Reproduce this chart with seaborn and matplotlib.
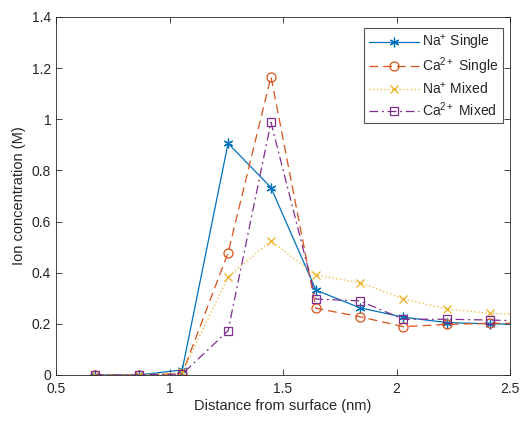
import matplotlib
matplotlib.use("Agg")
import matplotlib.pyplot as plt
import seaborn as sns
import pandas as pd
import numpy as np

distance = [0.672, 0.864, 1.056, 1.258, 1.447, 1.645, 1.838, 2.03, 2.222, 2.414, 2.61]
na_single = [0.0, 0.0, 0.02, 0.906, 0.733, 0.332, 0.263, 0.226, 0.205, 0.200, 0.198]
ca_single = [0.0, 0.0, 0.005, 0.478, 1.167, 0.261, 0.228, 0.189, 0.198, 0.202, 0.203]
na_mixed = [0.0, 0.0, 0.01, 0.384, 0.524, 0.391, 0.361, 0.298, 0.258, 0.241, 0.234]
ca_mixed = [0.0, 0.0, 0.004, 0.173, 0.988, 0.297, 0.290, 0.218, 0.218, 0.215, 0.210]

labels = [r"Na$^{+}$ Single", r"Ca$^{2+}$ Single", r"Na$^{+}$ Mixed", r"Ca$^{2+}$ Mixed"]
series = [na_single, ca_single, na_mixed, ca_mixed]
colors = ["#0072BD", "#D95319", "#EDB120", "#7E2F8E"]
markers = [(6, 2, 0), "o", "x", "s"]
msizes = [7, 6.5, 6, 6]
styles = ["-", (0, (7, 4)), (0, (1, 2)), (0, (7, 3, 1.5, 3))]

sns.set_style("ticks")
plt.rcParams["font.family"] = ["Liberation Sans", "DejaVu Sans"]
plt.rcParams["mathtext.fontset"] = "custom"
plt.rcParams["mathtext.rm"] = "Liberation Sans"
plt.rcParams["mathtext.it"] = "Liberation Sans"
plt.rcParams["mathtext.default"] = "regular"

fig = plt.figure(figsize=(5.24, 4.24), dpi=100)
ax = fig.add_axes([56 / 524, 1 - 375 / 424, (510 - 56) / 524, (375 - 17) / 424])

for lab, vals, c, m, ms, ls in zip(labels, series, colors, markers, msizes, styles):
    df = pd.DataFrame({"x": distance, "y": vals})
    filled = not (m in ("o", "s"))
    sns.lineplot(data=df, x="x", y="y", ax=ax, color=c, linestyle=ls, linewidth=0.9,
                 marker=m, markersize=ms, markerfacecolor=(c if filled else "none"),
                 markeredgecolor=c, markeredgewidth=0.9, label=lab, estimator=None,
                 sort=False)

ax.set_xlim(0.5, 2.5)
ax.set_ylim(0, 1.4)
ax.set_xticks([0.5, 1, 1.5, 2, 2.5])
ax.set_xticklabels(["0.5", "1", "1.5", "2", "2.5"])
ax.set_yticks([0, 0.2, 0.4, 0.6, 0.8, 1, 1.2, 1.4])
ax.set_yticklabels(["0", "0.2", "0.4", "0.6", "0.8", "1", "1.2", "1.4"])
ax.tick_params(direction="in", top=True, right=True, length=4, width=0.6,
               labelsize=10, colors="#262626")
ax.tick_params(axis="x", pad=5)
for s in ax.spines.values():
    s.set_visible(True)
    s.set_color("#262626")
    s.set_linewidth(0.6)
ax.set_xlabel("Distance from surface (nm)", fontsize=10.5, color="#262626", labelpad=2)
ax.set_ylabel("Ion concentration (M)", fontsize=10.5, color="#262626", labelpad=4)

leg = ax.legend(loc="upper right", fontsize=10, frameon=True, fancybox=False,
                edgecolor="#262626", handlelength=3.6, borderpad=0.35,
                labelspacing=0.25, handletextpad=0.2, borderaxespad=0,
                bbox_to_anchor=(0.9845, 0.969))
leg.get_frame().set_linewidth(0.8)

fig.savefig("out.png", dpi=100)
